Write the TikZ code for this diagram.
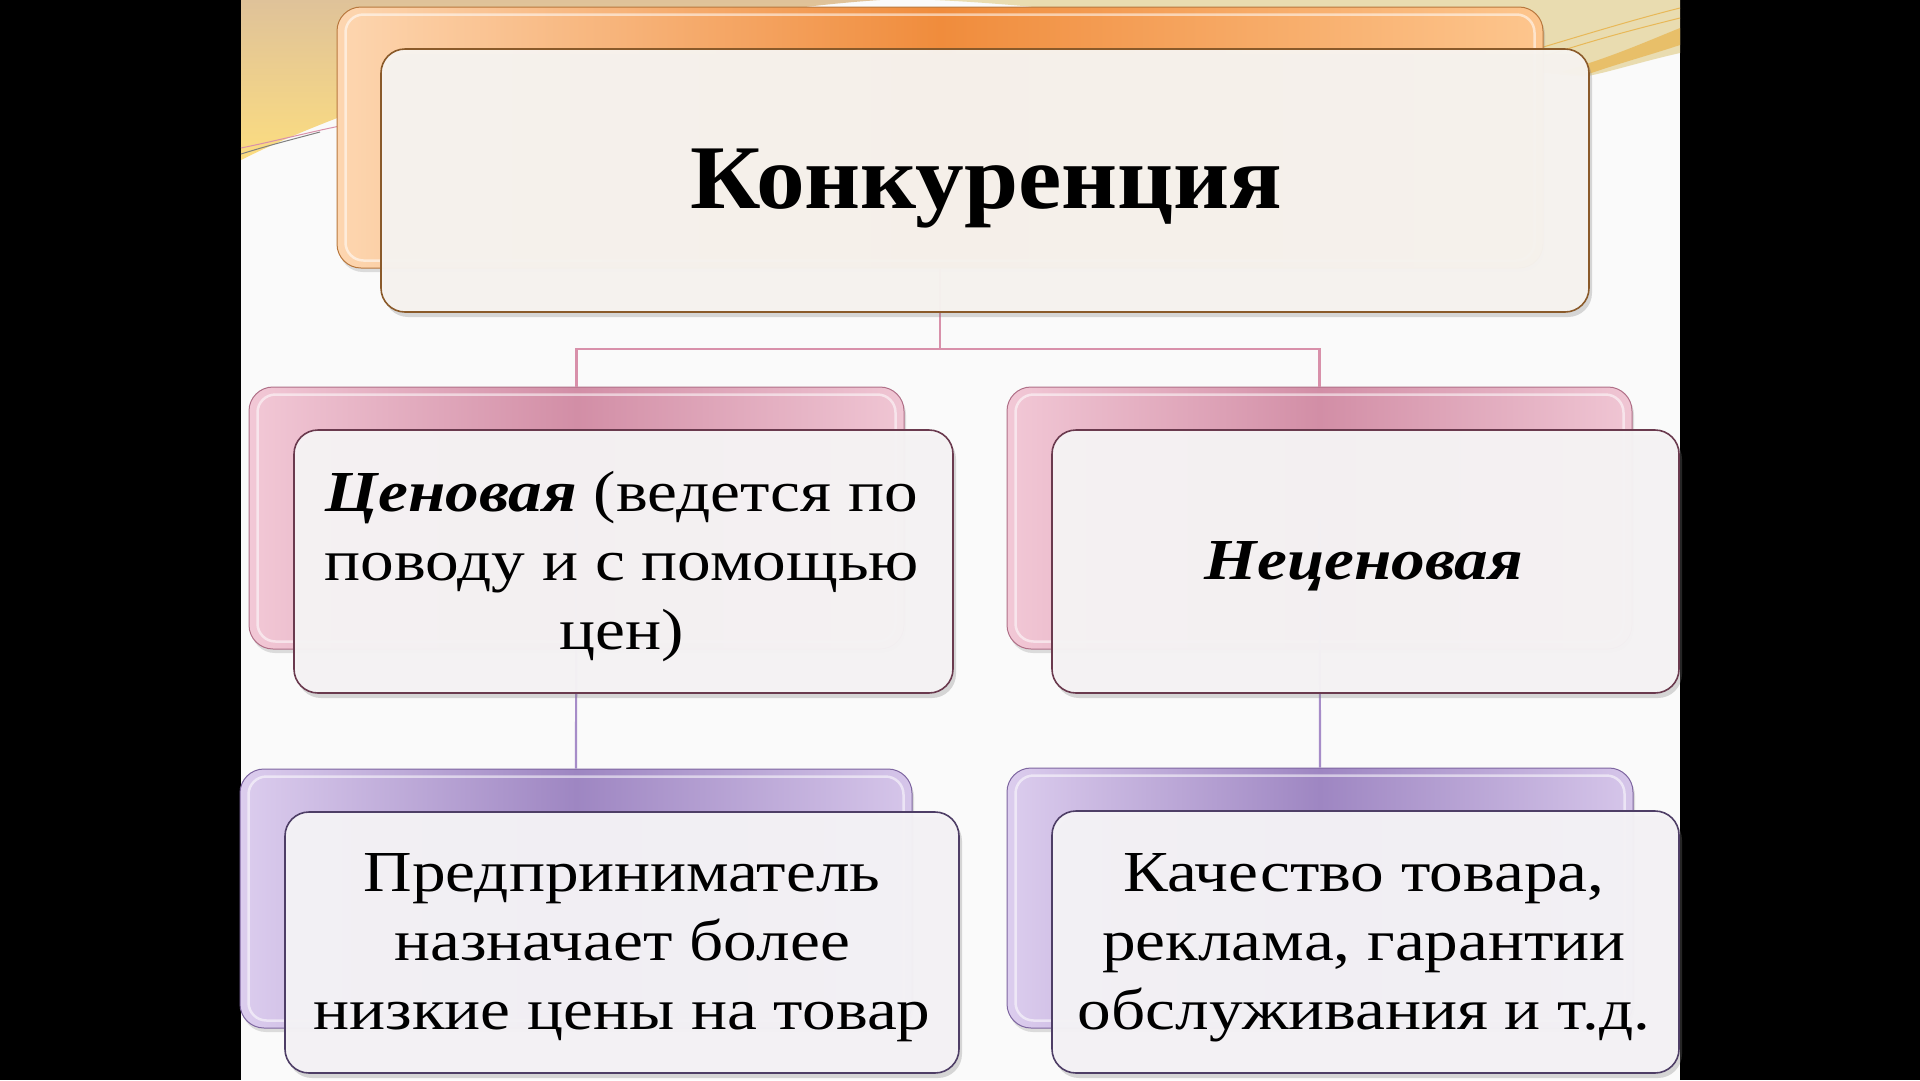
\documentclass[tikz,border=0pt]{standalone}
\usepackage{fontspec}
\setmainfont{Liberation Serif}
\newfontfamily\bodyfont{Liberation Serif}[FakeStretch=1.16]
\newfontfamily\titlefont{Liberation Serif}[FakeStretch=1.07]
\usetikzlibrary{shadows}
\definecolor{slidebg}{HTML}{FAFAFA}
\definecolor{tanA}{HTML}{DFC299}
\definecolor{yelA}{HTML}{FCDD80}
\definecolor{paleA}{HTML}{E9DCB0}
\definecolor{goldA}{HTML}{E8B858}
\definecolor{orL}{HTML}{FDD6B0}
\definecolor{orM}{HTML}{F08C3C}
\definecolor{orR}{HTML}{FDC68E}
\definecolor{orB}{HTML}{B8783E}
\definecolor{pkL}{HTML}{F2C8D6}
\definecolor{pkM}{HTML}{D28EA6}
\definecolor{pkR}{HTML}{F0C6D4}
\definecolor{pkB}{HTML}{B07088}
\definecolor{puL}{HTML}{DCCDEE}
\definecolor{puM}{HTML}{9E86C2}
\definecolor{puR}{HTML}{D6C6EA}
\definecolor{puB}{HTML}{7E66A0}
\definecolor{frTop}{HTML}{F7F4F0}
\definecolor{frTopB}{HTML}{8A5A2A}
\definecolor{frMid}{HTML}{F6F4F5}
\definecolor{frMidB}{HTML}{6A3A4E}
\definecolor{frBot}{HTML}{F5F3F6}
\definecolor{frBotB}{HTML}{4E3E66}
\definecolor{pinkline}{HTML}{D890AA}
\definecolor{purpline}{HTML}{A68CC8}
\tikzset{
  backbox/.style={rounded corners=24pt, line width=1pt, inner sep=0pt,
    drop shadow={shadow xshift=2pt, shadow yshift=-4pt, opacity=0.25}},
  frontbox/.style={rounded corners=24pt, line width=1.6pt, inner sep=0pt, fill opacity=0.96,
    drop shadow={shadow xshift=3pt, shadow yshift=-5pt, opacity=0.3}},
  gloss/.style={white, opacity=0.55, line width=2.5pt, rounded corners=18pt},
  conn/.style={line width=2.2pt},
  bodytext/.style={font=\bodyfont\fontsize{58}{69}\selectfont, align=center, text=black, inner sep=0pt}
}
\begin{document}
\begin{tikzpicture}[x=1pt,y=-1pt]
\useasboundingbox (0,0) rectangle (1920,1080);
% frame
\fill[black] (0,0) rectangle (1920,1080);
\fill[slidebg] (241,0) rectangle (1680,1080);
% top-left swoosh
\shade[top color=tanA, bottom color=yelA] (241,0) -- (880,0) .. controls (700,12) and (420,70) .. (241,160) -- cycle;
\draw[pinkline, line width=1pt] (241,148) .. controls (280,140) and (310,132) .. (340,126);
\draw[gray, line width=1pt] (241,154) .. controls (270,145) and (290,140) .. (320,132);
% top band and right swoosh
\fill[paleA] (935,0) -- (1680,0) -- (1680,53) .. controls (1640,62) and (1610,72) .. (1583,77) .. controls (1400,60) and (1150,10) .. (935,0) -- cycle;
\fill[goldA, opacity=0.8] (1560,72) .. controls (1610,58) and (1650,40) .. (1680,28) -- (1680,45) .. controls (1650,55) and (1610,66) .. (1583,76) -- cycle;
\draw[goldA, line width=1pt] (1540,48) .. controls (1600,30) and (1640,18) .. (1680,8);
\draw[goldA, line width=1pt] (1545,56) .. controls (1600,38) and (1640,28) .. (1680,18);
% back boxes
\node[backbox, draw=orB, left color=orL, right color=orR, middle color=orM, minimum width=1206pt, minimum height=261pt] (topback) at (940,137.5) {};
\node[backbox, draw=pkB, left color=pkL, right color=pkR, middle color=pkM, minimum width=655pt, minimum height=262pt] (midLback) at (576.5,518) {};
\node[backbox, draw=pkB, left color=pkL, right color=pkR, middle color=pkM, minimum width=625pt, minimum height=262pt] (midRback) at (1319.5,518) {};
\node[backbox, draw=puB, left color=puL, right color=puR, middle color=puM, minimum width=672pt, minimum height=259pt] (botLback) at (576,898.5) {};
\node[backbox, draw=puB, left color=puL, right color=puR, middle color=puM, minimum width=626pt, minimum height=260pt] (botRback) at (1320,898) {};
\foreach \b in {topback,midLback,midRback,botLback,botRback}
  \draw[gloss] ([shift={(9,8)}]\b.north west) rectangle ([shift={(-9,-8)}]\b.south east);
% connectors
\coordinate (hub) at (940,349);
\draw[pinkline, conn] (topback.south) -- (hub) -| (midLback.north);
\draw[pinkline, conn] (hub) -| (midRback.north);
\draw[purpline, conn] (midLback.center) -- (botLback.north);
\draw[purpline, conn] (midRback.center) -- (botRback.north);
% front boxes
\node[frontbox, draw=frTopB, fill=frTop, minimum width=1208pt, minimum height=263pt] (topfront) at (985,180.5) {};
\node[frontbox, draw=frMidB, fill=frMid, minimum width=659pt, minimum height=263pt] (midLfront) at (623.5,561.5) {};
\node[frontbox, draw=frMidB, fill=frMid, minimum width=627pt, minimum height=263pt] (midRfront) at (1365.5,561.5) {};
\node[frontbox, draw=frBotB, fill=frBot, minimum width=674pt, minimum height=261pt] (botLfront) at (622,942.5) {};
\node[frontbox, draw=frBotB, fill=frBot, minimum width=627pt, minimum height=262pt] (botRfront) at (1365.5,942) {};
% texts
\node[anchor=base, inner sep=0pt, font=\titlefont\fontsize{91}{100}\selectfont\bfseries] (toptext) at (986.5,208) {Конкуренция};
\node[bodytext] (midLtext) at (622,567) {\textbf{\textit{Ценовая}} (ведется по\\поводу и с помощью\\цен)};
\node[bodytext, anchor=base] (midRtext) at (1364,579) {\textbf{\textit{Неценовая}}};
\node[bodytext] (botLtext) at (622,948) {Предприниматель\\назначает более\\низкие цены на товар};
\node[bodytext] (botRtext) at (1364,948) {Качество товара,\\реклама, гарантии\\обслуживания и т.д.};
\end{tikzpicture}
\end{document}
